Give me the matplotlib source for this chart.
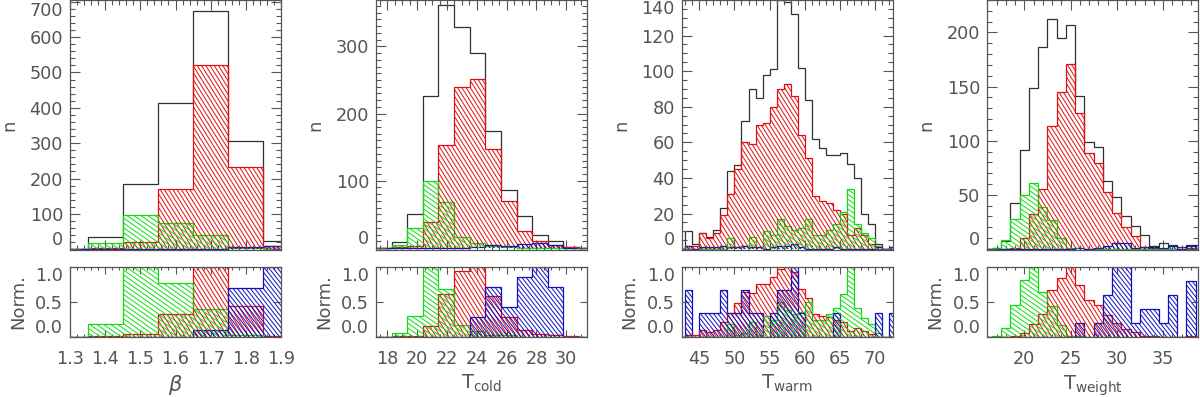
import numpy as np
import matplotlib
matplotlib.use('Agg')
import matplotlib.pyplot as plt
from matplotlib.patches import Polygon
from matplotlib.collections import LineCollection
from matplotlib.ticker import MultipleLocator

plt.rcParams['font.family'] = ['DejaVu Sans']
plt.rcParams['mathtext.fontset'] = 'dejavusans'

# ---- data (counts per bin) ----
beta_edges = np.linspace(1.25, 1.95, 8)
beta_total = [0, 35, 186, 415, 675, 305, 24]
beta_red = [0, 3, 20, 171, 520, 232, 8]
beta_green = [0, 18, 97, 75, 39, 3, 0]
beta_blue = [0, 0, 0, 0, 1, 7, 10]

tcold_edges = 17.24 + 1.047 * np.arange(15)
tcold_total = [0, 9, 51, 226, 361, 329, 290, 174, 87, 47, 20, 11, 1, 0]
tcold_red = [0, 1, 3, 38, 153, 239, 252, 147, 70, 25, 11, 5, 1, 0]
tcold_green = [0, 5, 30, 100, 69, 17, 8, 3, 2, 0, 0, 0, 0, 0]
tcold_blue = [0, 0, 0, 0, 0, 0, 2, 5, 3, 6, 7, 5, 0, 0]

twarm_edges = np.arange(42, 74)
twarm_total = [0, 10, 3, 9, 7, 11, 23, 44, 47, 72, 90, 85, 98, 101, 140, 139, 132,
               102, 84, 62, 57, 53, 53, 54, 48, 40, 20, 14, 3, 0, 0]
twarm_red = [0, 2, 2, 9, 6, 9, 19, 31, 45, 60, 59, 70, 71, 80, 90, 93, 86,
             64, 51, 30, 27, 26, 22, 20, 8, 12, 8, 3, 0, 0, 0]
twarm_green = [0, 0, 0, 0, 0, 0, 0, 6, 1, 2, 7, 1, 10, 8, 17, 13, 11,
               12, 17, 8, 8, 11, 14, 21, 34, 14, 9, 6, 2, 0, 0]
twarm_blue = [0, 2, 0, 1, 1, 1, 2, 1, 1, 2, 1, 1, 0, 1, 2, 2, 3,
              1, 0, 0, 0, 0, 1, 0, 0, 0, 0, 0, 1, 0, 1]

tweight_edges = np.arange(15.5, 40.0, 1.0)
tweight_total = [0, 1, 7, 42, 91, 149, 187, 212, 195, 207, 141, 99, 94, 63, 48,
                 30, 21, 13, 3, 5, 4, 2, 3, 4]
tweight_red = [0, 0, 0, 1, 10, 32, 55, 114, 145, 171, 126, 89, 79, 53, 33,
               20, 12, 2, 1, 0, 0, 0, 1, 0]
tweight_green = [0, 1, 8, 28, 50, 61, 39, 27, 10, 1, 1, 0, 0, 0, 0,
                 0, 0, 0, 0, 0, 0, 0, 0, 0]
tweight_blue = [0, 0, 0, 0, 0, 0, 0, 0, 0, 0, 1, 0, 1, 3, 5,
                5, 1, 2, 2, 1, 3, 0, 4, 0]

xlabels = [r'$\beta$', r'T$_{\rm cold}$', r'T$_{\rm warm}$', r'T$_{\rm weight}$']

FRAME = '#555555'
TXT = '#555555'
BLACK = '#303030'
RED = '#e01010'
GREEN = '#10dd10'
BLUE = '#1010c0'

fig = plt.figure(figsize=(12, 3.97), dpi=100)


def hatch(ax, edges, vals, color, angle, gap):
    # hatch lines at a given screen angle, clipped to the step outline
    pts = [(edges[0], 0.0)]
    for i, v in enumerate(vals):
        pts += [(edges[i], v), (edges[i + 1], v)]
    pts.append((edges[-1], 0.0))
    poly = Polygon(pts, closed=True, facecolor='none', edgecolor='none')
    ax.add_patch(poly)
    bb = ax.get_position()
    w = bb.width * fig.get_figwidth() * fig.dpi
    h = bb.height * fig.get_figheight() * fig.dpi
    t = np.radians(angle)
    d = np.array([np.cos(t), np.sin(t)])
    nr = np.array([-np.sin(t), np.cos(t)])
    r = np.hypot(w, h)
    segs = []
    for c in np.arange(-r, r, gap):
        p0 = c * nr - r * d
        p1 = c * nr + r * d
        segs.append([(p0[0] / w, p0[1] / h), (p1[0] / w, p1[1] / h)])
    lc = LineCollection(segs, colors=color, linewidths=0.7, transform=ax.transAxes)
    ax.add_collection(lc, autolim=False)
    lc.set_clip_path(poly)


def style(ax, ml, mlen):
    ax.tick_params(which='both', direction='in', top=True, right=True,
                   color=FRAME, labelcolor=TXT, labelsize=12.7, width=0.8)
    ax.tick_params(which='major', length=ml)
    ax.tick_params(which='minor', length=mlen)
    ax.tick_params(axis='y', pad=5)
    ax.tick_params(axis='x', pad=9)
    for s in ax.spines.values():
        s.set_color(FRAME)
        s.set_linewidth(0.9)


panels = [
    (beta_edges, beta_total, beta_red, beta_green, beta_blue,
     (1.3, 1.9), [1.3, 1.4, 1.5, 1.6, 1.7, 1.8, 1.9], 0.02,
     (-2, 705), list(range(0, 701, 100)), 20, 70),
    (tcold_edges, tcold_total, tcold_red, tcold_green, tcold_blue,
     (17.24, 31.39), [18, 20, 22, 24, 26, 28, 30], 0.5,
     (-3, 369), [0, 100, 200, 300], 10, 376),
    (twarm_edges, twarm_total, twarm_red, twarm_green, twarm_blue,
     (42.5, 72.5), [45, 50, 55, 60, 65, 70], 1,
     (-0.5, 140), list(range(0, 141, 20)), 5, 681.7),
    (tweight_edges, tweight_total, tweight_red, tweight_green, tweight_blue,
     (16.0, 38.8), [20, 25, 30, 35], 1,
     (-1, 230), [0, 50, 100, 150, 200], 10, 987.3),
]

for i, (edges, tot, red, green, blue, xl, xt, xminor, yl, yt, yminor, left) in enumerate(panels):
    l = left / 1200
    w = 211 / 1200
    axt = fig.add_axes([l, 0.3703, w, 0.6297])
    axb = fig.add_axes([l, 0.1511, w, 0.1771])

    axt.stairs(tot, edges, color=BLACK, lw=0.9)
    series = [(red, RED, -58, 3.6), (green, GREEN, -35, 4.0), (blue, BLUE, -52, 3.4)]
    for vals, col, ang, gap in series:
        vals = np.array(vals, dtype=float)
        hatch(axt, edges, vals, col, ang, gap)
        axt.stairs(vals, edges, color=col, lw=0.9)
        norm = vals / vals.max()
        hatch(axb, edges, norm, col, ang, gap)
        axb.stairs(norm, edges, color=col, lw=0.9)

    for ax in (axt, axb):
        ax.set_xlim(*xl)
        ax.set_xticks(xt)
        ax.xaxis.set_minor_locator(MultipleLocator(xminor))
    axt.set_ylim(*yl)
    axt.set_yticks(yt)
    axt.yaxis.set_minor_locator(MultipleLocator(yminor))
    axt.tick_params(labelbottom=False)
    style(axt, 7, 3.5)
    axt.set_ylabel('n', fontsize=13, color=TXT, labelpad=8)

    axb.set_ylim(-0.005, 1.005)
    axb.set_yticks([0, 0.5, 1.0], ['0.0', '0.5', '1.0'])
    if i == 0:
        axb.set_xticklabels(['1.3', '1.4', '1.5', '1.6', '1.7', '1.8', '1.9'])
    style(axb, 5, 2.5)
    axb.set_ylabel('Norm.', fontsize=13, color=TXT, labelpad=6)
    axb.set_xlabel(xlabels[i], fontsize=15 if i == 0 else 14, color=TXT, labelpad=4)

    # end labels sit inside the frame
    ylabs = axt.get_yticklabels()
    ylabs[0].set_va('bottom')
    if yt[-1] >= yl[1] - 6:
        ylabs[-1].set_va('top')
    blabs = axb.get_yticklabels()
    blabs[0].set_va('bottom')
    blabs[-1].set_va('top')

fig.savefig('out.png', dpi=100)
